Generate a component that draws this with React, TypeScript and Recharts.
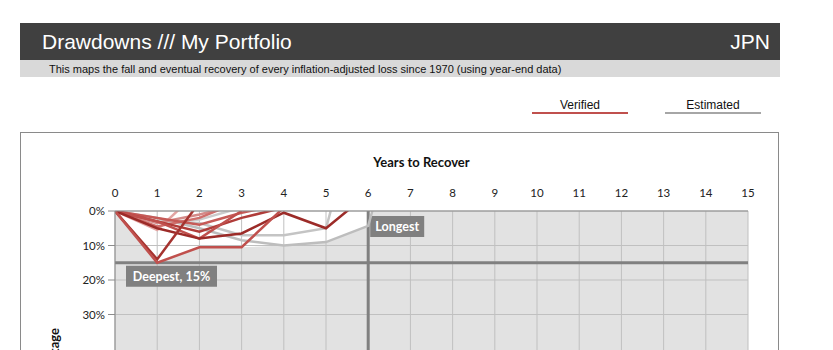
import {
  Area,
  CartesianGrid,
  ComposedChart,
  Label,
  Line,
  ReferenceArea,
  ReferenceLine,
  XAxis,
  YAxis,
} from "recharts";

// x axis: years since the prior peak
const years = [0, 1, 2, 3, 4, 5, 6, 7, 8, 9, 10, 11, 12, 13, 14, 15];
// y axis: % below prior peak (drawn downward); the frame is cut below 30%
const pctTicks = [0, 10, 20, 30];

// Each drawdown: % below peak at each year-end. The last point is the
// recovery year, which is above the old peak and runs off the top edge.
const verifiedA = [0, 15, 10.5, 10.5, -1];
const verifiedB = [0, 14, -2.5];
const verifiedC = [0, 3, 8, 0];
const verifiedD = [0, 5, 8, 6.5, 0.5, 5, -5];
const verifiedE = [0, 5.5, -6];
const verifiedF = [0, 3.5, 1, -2];
const verifiedG = [0, 2, 4, 0.5, -2];
const verifiedH = [0, 3, 6, 2, -1];
const verifiedI = [0, 4.5, 2, -3];

const estimatedA = [0, 3, 3.5, 7, 7, 5, -40];
const estimatedB = [0, 2, 5, 8.5, 10, 9, 4.3, -40];
const estimatedC = [0, 3.5, 2.5, -1];

// lower edge of all drawdowns, filled white
const coverage = [0, 15, 10.5, 10.5, 10, 9, 4.3, -40];

const deepestPct = 15;
const longestYears = 6;

const series = [
  { key: "estA", values: estimatedA, color: "#c4c4c4" },
  { key: "estB", values: estimatedB, color: "#bdbdbd" },
  { key: "estC", values: estimatedC, color: "#cbcbcb" },
  { key: "verE", values: verifiedE, color: "#e3a5a3" },
  { key: "verF", values: verifiedF, color: "#d48a88" },
  { key: "verI", values: verifiedI, color: "#cf6f6c" },
  { key: "verG", values: verifiedG, color: "#c65a57" },
  { key: "verH", values: verifiedH, color: "#b03c39" },
  { key: "verC", values: verifiedC, color: "#c0504d" },
  { key: "verD", values: verifiedD, color: "#9c2b28" },
  { key: "verB", values: verifiedB, color: "#a5332f" },
  { key: "verA", values: verifiedA, color: "#c0504d" },
];

const rows = years.map((year, i) => {
  const row: Record<string, number | undefined> = { year, coverage: coverage[i] };
  series.forEach((s) => {
    row[s.key] = s.values[i];
  });
  return row;
});

const sans = '"Liberation Sans", Arial, sans-serif';
const chartFont = "Lato, 'Open Sans', sans-serif";

function DeepestTag(props: any) {
  const { viewBox } = props;
  const x = viewBox.x + 11;
  const y = viewBox.y + 3;
  return (
    <g>
      <rect x={x} y={y} width={91} height={21} fill="#808080" />
      <text
        x={x + 45.5}
        y={y + 15}
        textAnchor="middle"
        fill="#fff"
        fontWeight={700}
        fontSize={12.5}
        fontFamily={chartFont}
      >
        {`Deepest, ${deepestPct}%`}
      </text>
    </g>
  );
}

function LongestTag(props: any) {
  const { viewBox } = props;
  const x = viewBox.x + 2;
  const y = viewBox.y + 5;
  return (
    <g>
      <rect x={x} y={y} width={54} height={21} fill="#808080" />
      <text
        x={x + 27}
        y={y + 15}
        textAnchor="middle"
        fill="#fff"
        fontWeight={700}
        fontSize={12.5}
        fontFamily={chartFont}
      >
        Longest
      </text>
    </g>
  );
}

function YTitle(props: any) {
  const { viewBox } = props;
  const x = viewBox.x + 4;
  const y = viewBox.y + 117;
  return (
    <text
      x={x}
      y={y}
      transform={`rotate(-90, ${x}, ${y})`}
      textAnchor="end"
      fontWeight={700}
      fontSize={13}
      fontFamily={chartFont}
      fill="#111"
    >
      Drawdown Percentage
    </text>
  );
}

export default function App() {
  return (
    <div
      style={{
        position: "fixed",
        left: 0,
        top: 0,
        width: 833,
        height: 350,
        overflow: "hidden",
        background: "#fff",
        fontFamily: sans,
      }}
    >
      {/* header */}
      <div
        style={{
          position: "absolute",
          left: 20,
          top: 23,
          width: 760,
          height: 37,
          background: "#404040",
          color: "#fff",
          fontSize: 21,
          lineHeight: "37px",
        }}
      >
        <span style={{ position: "absolute", left: 22 }}>Drawdowns /// My Portfolio</span>
        <span style={{ position: "absolute", right: 10 }}>JPN</span>
      </div>
      <div
        style={{
          position: "absolute",
          left: 20,
          top: 60,
          width: 760,
          height: 17,
          background: "#d9d9d9",
          color: "#111",
          fontSize: 11,
          lineHeight: "18px",
        }}
      >
        <span style={{ position: "absolute", left: 29 }}>
          This maps the fall and eventual recovery of every inflation-adjusted loss since 1970 (using year-end data)
        </span>
      </div>

      {/* legend */}
      {[
        { name: "Verified", color: "#c0504d", left: 532 },
        { name: "Estimated", color: "#a6a6a6", left: 665 },
      ].map((item) => (
        <div
          key={item.name}
          style={{
            position: "absolute",
            left: item.left,
            top: 99,
            width: 96,
            textAlign: "center",
            fontSize: 12,
            color: "#111",
            lineHeight: "13px",
            borderBottom: `2.5px solid ${item.color}`,
          }}
        >
          {item.name}
        </div>
      ))}

      {/* chart frame */}
      <div
        style={{
          position: "absolute",
          left: 20,
          top: 132,
          width: 757,
          height: 300,
          border: "1.5px solid #8a8a8a",
        }}
      />

      <div style={{ position: "absolute", left: 0, top: 0 }}>
        <ComposedChart
          width={833}
          height={460}
          data={rows}
          margin={{ top: 167, right: 85, bottom: 42, left: 55 }}
        >
          <ReferenceArea
            x1={0}
            x2={15}
            y1={0}
            y2={60}
            fill="#e2e2e2"
            fillOpacity={1}
            stroke="none"
            zIndex={-200}
          />
          <Area
            dataKey="coverage"
            type="linear"
            fill="#ffffff"
            fillOpacity={1}
            stroke="none"
            isAnimationActive={false}
            activeDot={false}
            zIndex={-150}
          />
          <CartesianGrid stroke="#c0c0c0" strokeWidth={1} />
          <XAxis
            dataKey="year"
            type="number"
            orientation="top"
            domain={[0, 15]}
            ticks={years}
            allowDataOverflow
            height={44}
            tickLine={false}
            tickSize={6}
            tickMargin={8}
            axisLine={{ stroke: "#8c8c8c" }}
            tick={{ fill: "#222", fontSize: 11.5, fontFamily: chartFont }}
          >
            <Label
              value="Years to Recover"
              position="top"
              offset={0}
              dx={-10}
              fontWeight={700}
              fontSize={13}
              fontFamily={chartFont}
              fill="#111"
            />
          </XAxis>
          <YAxis
            type="number"
            reversed
            domain={[0, 60]}
            ticks={pctTicks}
            allowDataOverflow
            width={60}
            tickSize={7}
            tickMargin={3}
            tickFormatter={(v) => `${v}%`}
            axisLine={{ stroke: "#8c8c8c" }}
            tickLine={{ stroke: "#8c8c8c" }}
            tick={{ fill: "#222", fontSize: 11.5, fontFamily: chartFont }}
          >
            <Label content={YTitle} />
          </YAxis>
          <ReferenceLine
            y={deepestPct}
            stroke="#808080"
            strokeWidth={3}
            zIndex={300}
            label={<DeepestTag />}
          />
          <ReferenceLine
            x={longestYears}
            stroke="#808080"
            strokeWidth={3}
            zIndex={300}
            label={<LongestTag />}
          />
          {series.map((s) => (
            <Line
              key={s.key}
              dataKey={s.key}
              type="linear"
              stroke={s.color}
              strokeWidth={2.5}
              dot={false}
              activeDot={false}
              isAnimationActive={false}
            />
          ))}
        </ComposedChart>
      </div>
    </div>
  );
}
